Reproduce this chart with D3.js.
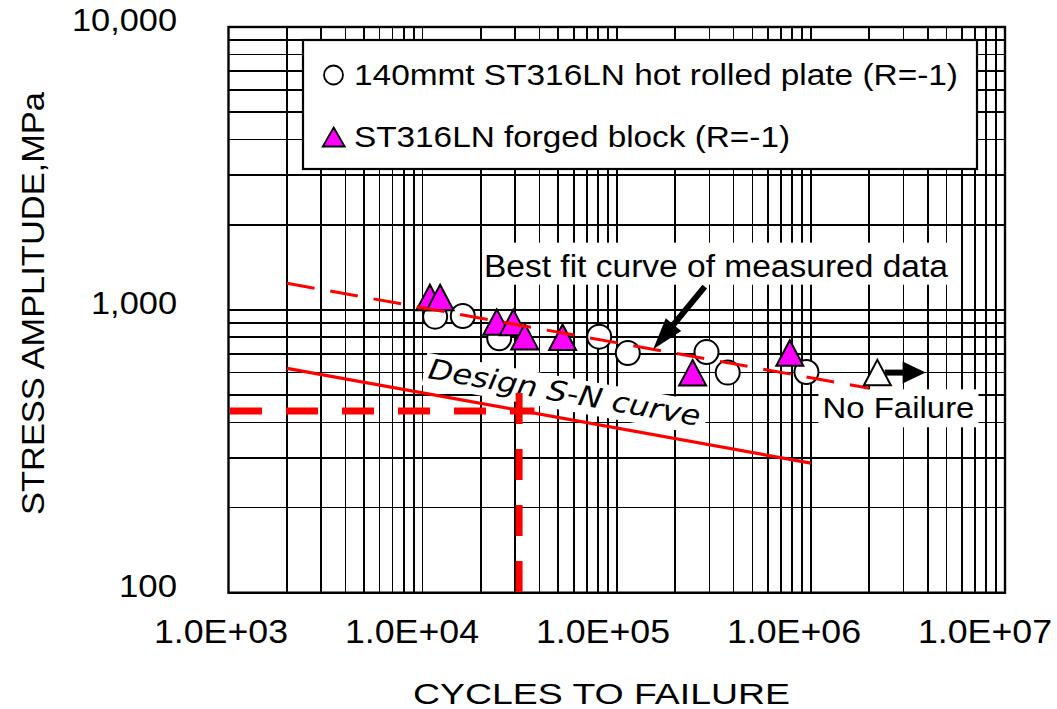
<!DOCTYPE html>
<html>
<head>
<meta charset="utf-8"/>
<title>S-N curve</title>
<script src="https://d3js.org/d3.v7.min.js"></script>
<style>
body { margin:0; background:#fff; }
text { font-family: "Liberation Sans", Arial, sans-serif; fill:#000; }
</style>
</head>
<body>
<div id="chart"></div>
<script>

// 140mmt ST316LN hot rolled plate (R=-1)
var plateN = [11600, 16100, 24800, 81200, 114000, 290000, 373000, 949000];
var plateS = [946, 951, 794, 804, 704, 709, 600, 603];

// ST316LN forged block (R=-1)
var forgedN = [10900, 12300, 24100, 29300, 33600, 52600, 246000, 779000];
var forgedS = [1106, 1105, 905, 903, 804, 800, 599, 704];

// run-out (no failure)
var runoutN = [2200000];
var runoutS = [600];

// best fit curve of measured data
var fitN = [2000, 2000000];
var fitS = [1242, 528];

// design S-N curve
var designN = [2000, 1000000];
var designS = [621, 287];

// design point guide lines
var guideHN = [1000, 37000];
var guideHS = [439, 439];
var guideVN = [31400, 31400];
var guideVS = [508, 100];

var xTicks = [1e3, 1e4, 1e5, 1e6, 1e7];
var yTicks = [100, 1000, 10000];

var W = 1057, H = 709;
var pL = 228.5, pR = 1005, pT = 27, pB = 592.7;

var x = d3.scaleLog().domain([1e3, 1e7]).range([pL, pR]);
var y = d3.scaleLog().domain([100, 1e4]).range([pB, pT]);
// tick labels sit a little left of their grid lines, more so to the right
var xLab = d3.scaleLog().domain([1e3, 1e7]).range([221, 985]);

var svg = d3.select("#chart").append("svg").attr("width", W).attr("height", H);

var grid = svg.append("g").style("shape-rendering", "crispEdges");
grid.selectAll("line.v").data(x.ticks()).enter().append("line")
  .attr("x1", function(d){ return x(d); }).attr("x2", function(d){ return x(d); })
  .attr("y1", pT).attr("y2", pB)
  .style("stroke", "#000").style("stroke-width", 1.7);
grid.selectAll("line.h").data(y.ticks()).enter().append("line")
  .attr("y1", function(d){ return y(d); }).attr("y2", function(d){ return y(d); })
  .attr("x1", pL).attr("x2", pR)
  .style("stroke", "#000").style("stroke-width", 1.7);

svg.append("rect").attr("x", pL).attr("y", pT)
  .attr("width", pR - pL).attr("height", pB - pT)
  .style("fill", "none").style("stroke", "#000").style("stroke-width", 2.4);

// tick labels
var fmtX = function(d){ return "1.0E+" + d3.format("02d")(Math.round(Math.log10(d))); };
svg.selectAll("text.xt").data(xTicks).enter().append("text")
  .attr("x", function(d){ return xLab(d); }).attr("y", pB + 50)
  .attr("text-anchor", "middle").style("font-size", "33px")
  .attr("textLength", 134).attr("lengthAdjust", "spacingAndGlyphs")
  .text(fmtX);

var yW = {100: 58, 1000: 86, 10000: 105};
svg.selectAll("text.yt").data(yTicks).enter().append("text")
  .attr("x", 177).attr("y", function(d){ return y(d) + 4; })
  .attr("text-anchor", "end").style("font-size", "31px")
  .attr("textLength", function(d){ return yW[d]; }).attr("lengthAdjust", "spacingAndGlyphs")
  .text(d3.format(","));

svg.append("text").attr("x", 413).attr("y", 704).style("font-size", "30px")
  .attr("textLength", 377).attr("lengthAdjust", "spacingAndGlyphs")
  .text("CYCLES TO FAILURE");

svg.append("text").attr("transform", "translate(44,303.5) rotate(-90)")
  .attr("text-anchor", "middle").style("font-size", "32px")
  .attr("textLength", 423).attr("lengthAdjust", "spacingAndGlyphs")
  .text("STRESS AMPLITUDE,MPa");

// white label boxes
var bestFitAt = [20700, 1310];
svg.append("rect").attr("x", x(bestFitAt[0]) - 1).attr("y", y(bestFitAt[1]) - 34)
  .attr("width", 472).attr("height", 42).style("fill", "#fff");

var designAt = [10520, 574];
var dLab = svg.append("g")
  .attr("transform", "translate(" + x(designAt[0]) + "," + y(designAt[1]) + ") rotate(10)");
dLab.append("rect").attr("x", -4).attr("y", -25).attr("width", 286).attr("height", 33).style("fill", "#fff");

var noFailAt = [1147000, 413.6];
svg.append("rect").attr("x", x(noFailAt[0]) - 4).attr("y", y(noFailAt[1]) - 29)
  .attr("width", 160).attr("height", 38).style("fill", "#fff");

// design lines
var line = d3.line().x(function(d){ return x(d[0]); }).y(function(d){ return y(d[1]); });

svg.append("path").datum(d3.zip(designN, designS)).attr("d", line)
  .style("fill", "none").style("stroke", "#ff0000").style("stroke-width", 3.2);

svg.append("path").datum(d3.zip(guideHN, guideHS)).attr("d", line)
  .style("fill", "none").style("stroke", "#ff0000").style("stroke-width", 7)
  .style("stroke-dasharray", "32,24").attr("transform", "translate(1.5,0)");

svg.append("path").datum(d3.zip(guideVN, guideVS)).attr("d", line)
  .style("fill", "none").style("stroke", "#ff0000").style("stroke-width", 7)
  .style("stroke-dasharray", "31,25");

// markers
var tri = function(w, h){ return "M0," + (-h/2) + "L" + (w/2) + "," + (h/2) + "L" + (-w/2) + "," + (h/2) + "Z"; };

svg.selectAll("circle.plate").data(d3.zip(plateN, plateS)).enter().append("circle")
  .attr("cx", function(d){ return x(d[0]); }).attr("cy", function(d){ return y(d[1]); })
  .attr("r", 12).style("fill", "#fff").style("stroke", "#000").style("stroke-width", 2);

svg.selectAll("path.forged").data(d3.zip(forgedN, forgedS)).enter().append("path")
  .attr("transform", function(d){ return "translate(" + x(d[0]) + "," + y(d[1]) + ")"; })
  .attr("d", tri(27, 25.5)).style("fill", "#ff00ff").style("stroke", "#000").style("stroke-width", 2);

// best fit (drawn over the markers)
svg.append("path").datum(d3.zip(fitN, fitS)).attr("d", line)
  .style("fill", "none").style("stroke", "#ff0000").style("stroke-width", 3)
  .style("stroke-dasharray", "28,16");

// arrows
function arrow(x1, y1, x2, y2, sw, hl, hw) {
  var a = Math.atan2(y2 - y1, x2 - x1), c = Math.cos(a), s = Math.sin(a);
  var bx = x2 - hl * c, by = y2 - hl * s;
  svg.append("line").attr("x1", x1).attr("y1", y1).attr("x2", bx + c).attr("y2", by + s)
    .style("stroke", "#000").style("stroke-width", sw);
  svg.append("path").attr("d", "M" + x2 + "," + y2 + "L" + (bx - hw * s) + "," + (by + hw * c) +
    "L" + (bx + hw * s) + "," + (by - hw * c) + "Z").style("fill", "#000");
}

arrow(x(2400000), y(600), x(3900000), y(600), 6, 23, 11);

svg.selectAll("path.runout").data(d3.zip(runoutN, runoutS)).enter().append("path")
  .attr("transform", function(d){ return "translate(" + x(d[0]) + "," + y(d[1]) + ")"; })
  .attr("d", tri(27, 25.5)).style("fill", "#fff").style("stroke", "#000").style("stroke-width", 2);

arrow(x(284000), y(1208), x(154000), y(725), 6, 32, 10);

// annotation texts
svg.append("text").attr("x", x(bestFitAt[0])).attr("y", y(bestFitAt[1]))
  .style("font-size", "31px").attr("textLength", 464).attr("lengthAdjust", "spacingAndGlyphs")
  .text("Best fit curve of measured data");

dLab.append("text").attr("x", 0).attr("y", 0)
  .style("font-family", "'DejaVu Sans', sans-serif").style("font-style", "italic").style("font-size", "28px")
  .attr("textLength", 276).attr("lengthAdjust", "spacingAndGlyphs")
  .text("Design S-N curve");

svg.append("text").attr("x", x(noFailAt[0])).attr("y", y(noFailAt[1]))
  .style("font-size", "30px").attr("textLength", 152).attr("lengthAdjust", "spacingAndGlyphs")
  .text("No Failure");

// legend
var lg = svg.append("g");
lg.append("rect").attr("x", 303).attr("y", 40).attr("width", 674).attr("height", 129)
  .style("fill", "#fff").style("stroke", "#000").style("stroke-width", 2.2);
lg.append("circle").attr("cx", 333.5).attr("cy", 75).attr("r", 9.5)
  .style("fill", "#fff").style("stroke", "#000").style("stroke-width", 1.8);
lg.append("path").attr("transform", "translate(333.7,137)").attr("d", tri(22, 19))
  .style("fill", "#ff00ff").style("stroke", "#000").style("stroke-width", 1.8);
lg.append("text").attr("x", 354).attr("y", 85).style("font-size", "30px")
  .attr("textLength", 604).attr("lengthAdjust", "spacingAndGlyphs")
  .text("140mmt ST316LN hot rolled plate (R=-1)");
lg.append("text").attr("x", 354).attr("y", 147).style("font-size", "30px")
  .attr("textLength", 436).attr("lengthAdjust", "spacingAndGlyphs")
  .text("ST316LN forged block (R=-1)");

</script>
</body>
</html>
